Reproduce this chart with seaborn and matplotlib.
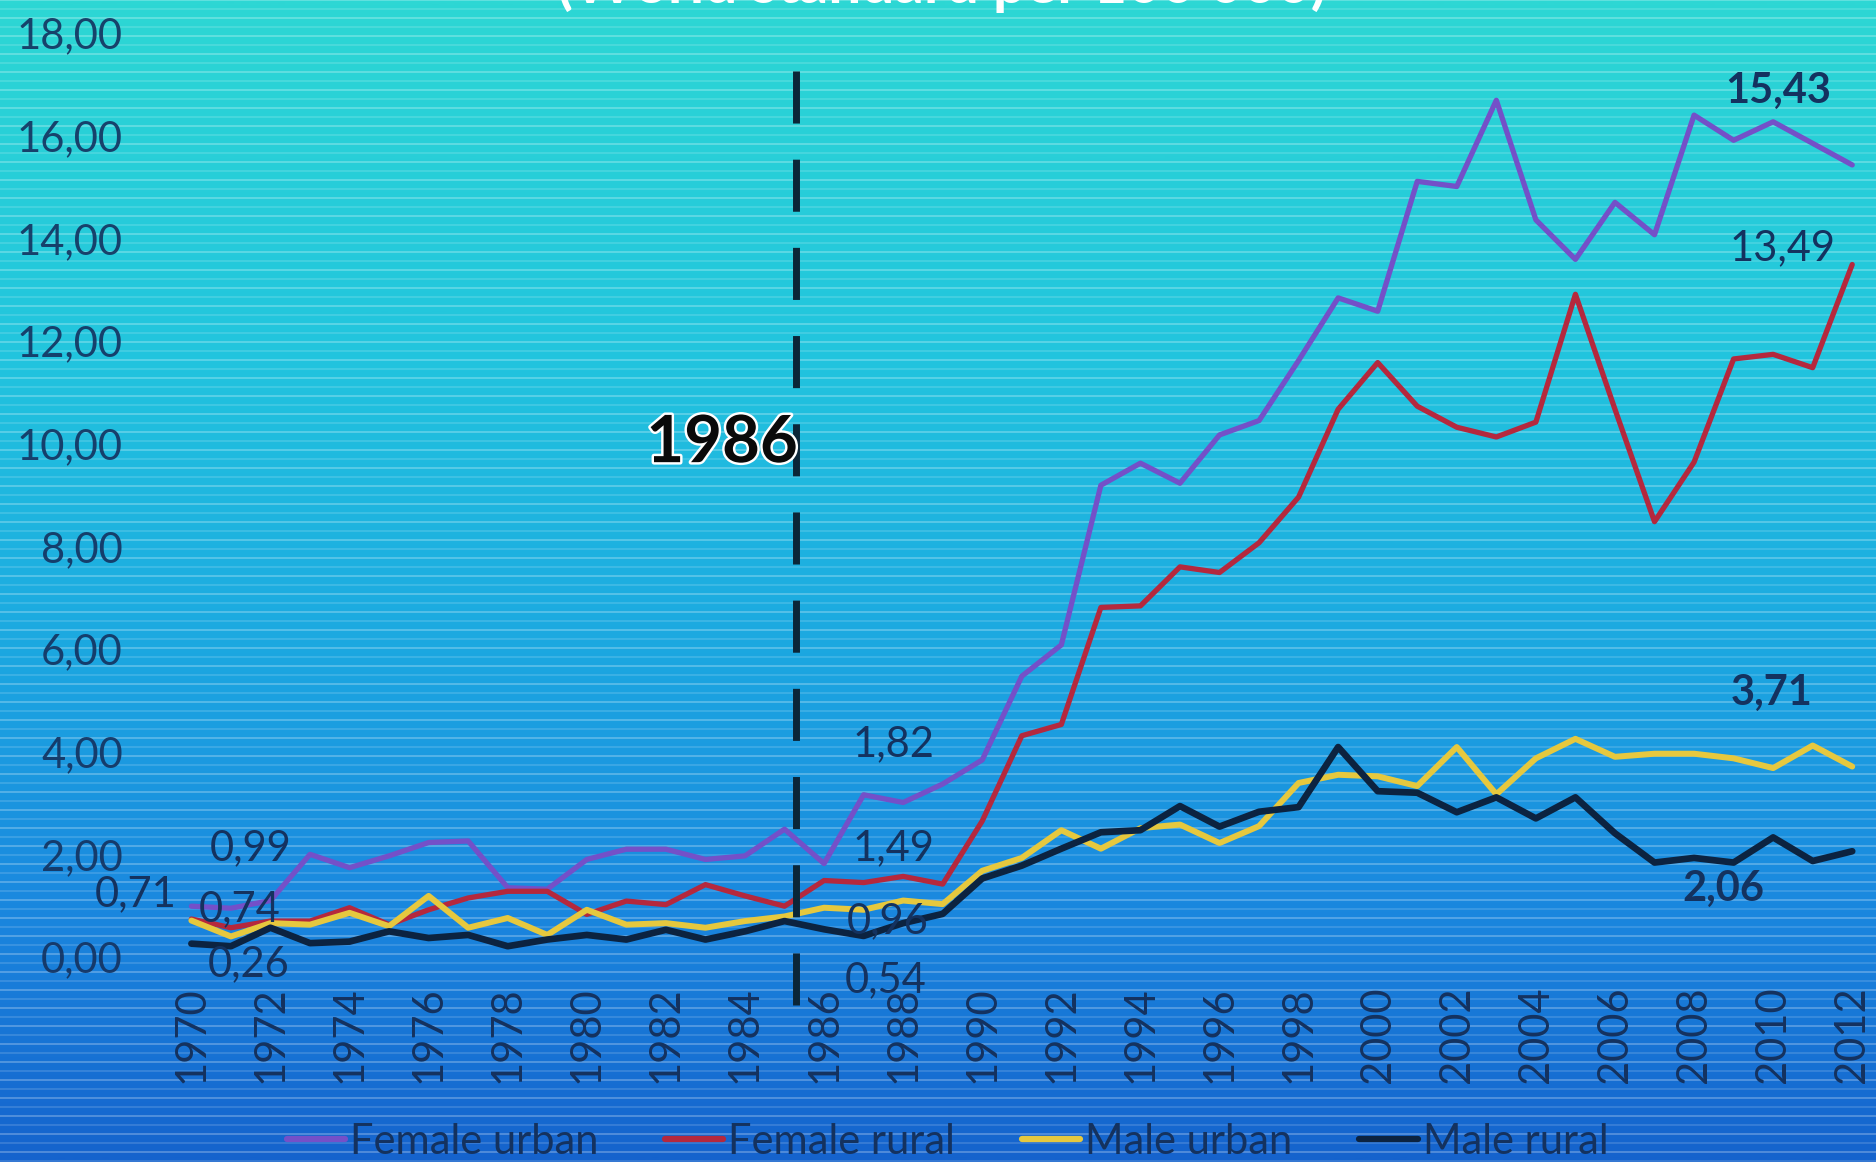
import numpy as np
import pandas as pd
import matplotlib
matplotlib.use("Agg")
import matplotlib.pyplot as plt
import matplotlib.patheffects as pe
from matplotlib.colors import LinearSegmentedColormap
from matplotlib.lines import Line2D
from matplotlib.ticker import FuncFormatter, FixedLocator
import seaborn as sns

# ---- data: suicide rates (world standard per 100 000) ----
years = list(range(1970, 2013))

female_urban = [0.99, 0.95, 1.10, 2.00, 1.74, 1.97, 2.23, 2.26, 1.35, 1.32,
                1.90, 2.10, 2.10, 1.90, 1.97, 2.49, 1.82, 3.16, 3.01, 3.37,
                3.84, 5.47, 6.08, 9.19, 9.62, 9.23, 10.17, 10.45, 11.62, 12.84,
                12.58, 15.11, 15.01, 16.69, 14.36, 13.59, 14.70, 14.07, 16.40, 15.91,
                16.27, 15.85, 15.43]
female_rural = [0.74, 0.57, 0.70, 0.70, 0.96, 0.63, 0.92, 1.15, 1.28, 1.28,
                0.83, 1.09, 1.02, 1.41, 1.19, 0.99, 1.49, 1.45, 1.57, 1.42,
                2.65, 4.31, 4.53, 6.81, 6.84, 7.60, 7.49, 8.07, 8.96, 10.67,
                11.58, 10.73, 10.32, 10.13, 10.42, 12.91, 10.67, 8.48, 9.64, 11.65,
                11.74, 11.48, 13.49]
male_urban = [0.71, 0.40, 0.66, 0.63, 0.86, 0.60, 1.19, 0.57, 0.76, 0.43,
              0.92, 0.63, 0.66, 0.57, 0.70, 0.79, 0.96, 0.92, 1.10, 1.03,
              1.68, 1.93, 2.47, 2.11, 2.51, 2.58, 2.22, 2.55, 3.39, 3.55,
              3.52, 3.33, 4.09, 3.17, 3.87, 4.25, 3.90, 3.96, 3.96, 3.87,
              3.68, 4.12, 3.71]
male_rural = [0.26, 0.21, 0.57, 0.27, 0.30, 0.50, 0.37, 0.43, 0.21, 0.34,
              0.43, 0.34, 0.53, 0.34, 0.50, 0.70, 0.54, 0.41, 0.66, 0.84,
              1.53, 1.78, 2.11, 2.43, 2.47, 2.94, 2.54, 2.83, 2.92, 4.09,
              3.23, 3.20, 2.82, 3.11, 2.70, 3.11, 2.41, 1.84, 1.93, 1.84,
              2.33, 1.87, 2.06]

series_names = ["Female urban", "Female rural", "Male urban", "Male rural"]
series_values = [female_urban, female_rural, male_urban, male_rural]
series_colors = ["#7450C8", "#B5283D", "#E6C83E", "#0C2340"]
series_widths = [3.8, 3.8, 4.3, 4.8]

y_ticks = [0, 2, 4, 6, 8, 10, 12, 14, 16, 18]
x_ticks = list(range(1970, 2013, 2))
reform_year = 1986
title_text = "(World standard per 100 000)"

# labelled points: (series index, year, offset in points, bold)
point_labels = [
    (0, 1970, (43, 42), False),
    (1, 1970, (35, 7), False),
    (2, 1970, (-40, 19), False),
    (3, 1970, (41, -15), False),
    (0, 1986, (50, 86), False),
    (1, 1986, (50, 23), False),
    (2, 1986, (46, -10), False),
    (3, 1986, (44, -37), False),
    (0, 2012, (-53, 53), True),
    (1, 2012, (-50, 12), False),
    (2, 2012, (-58, 53), True),
    (3, 2012, (-93, -27), True),
]

df = pd.DataFrame({
    "year": years * len(series_names),
    "rate": sum(series_values, []),
    "group": [n for n in series_names for _ in years],
})

sns.set_theme(style="white")
plt.rcParams["font.family"] = ["Lato", "DejaVu Sans"]

navy = "#14325f"
W, H = 1876, 1162
fig = plt.figure(figsize=(W / 100, H / 100), dpi=100)

# ---- background: vertical gradient with fine horizontal stripes ----
bg = fig.add_axes([0, 0, 1, 1], zorder=-10)
bg_cmap = LinearSegmentedColormap.from_list(
    "bg", [(0.0, "#2DD7D4"), (0.3, "#22C5DE"), (0.55, "#1CA9E1"),
           (0.78, "#1A88DF"), (1.0, "#1563CD")])
grad = np.linspace(0, 1, 600).reshape(-1, 1)
bg.imshow(grad, aspect="auto", cmap=bg_cmap, extent=[0, 1, 0, 1], origin="upper")
stripe_y = np.arange(H, 0, -9.0)
for i, yy in enumerate(stripe_y):
    bg.axhline(yy / H, color="white", lw=1.1, alpha=0.32 if i % 2 == 0 else 0.18)
bg.set_xlim(0, 1)
bg.set_ylim(0, 1)
bg.axis("off")

# ---- main chart ----
ax = fig.add_axes([171.6 / W, 1 - 957 / H, (1872 - 171.6) / W, (957 - 33) / H], zorder=1)
ax.patch.set_visible(False)

for name, color, lw in zip(series_names, series_colors, series_widths):
    sub = df[df["group"] == name]
    sns.lineplot(data=sub, x="year", y="rate", color=color, linewidth=lw,
                 ax=ax, legend=False, solid_joinstyle="round", solid_capstyle="round")

ax.set_xlim(years[0] - 0.5, years[-1] + 0.5)
ax.set_ylim(y_ticks[0], y_ticks[-1])
ax.set_xlabel("")
ax.set_ylabel("")
for s in ax.spines.values():
    s.set_visible(False)

ax.yaxis.set_major_locator(FixedLocator(y_ticks))
ax.yaxis.set_major_formatter(FuncFormatter(lambda v, p: f"{v:.2f}".replace(".", ",")))
ax.xaxis.set_major_locator(FixedLocator(x_ticks))
ax.xaxis.set_major_formatter(FuncFormatter(lambda v, p: f"{int(round(v))}"))
ax.tick_params(axis="y", length=0, pad=35, labelsize=30, labelcolor=navy)
ax.tick_params(axis="x", length=0, pad=21, labelsize=30, labelcolor=navy, labelrotation=90)
for lab in ax.get_yticklabels():
    lab.set_alpha(0.9)

# dashed marker before the reform year
reform_x = reform_year - 0.72
ax.plot([reform_x, reform_x], [-0.93, 17.45], color="#0B2638", lw=5,
        dashes=(7.5, 5.2), clip_on=False, zorder=3)
ax.text(reform_x + 0.05, 10.0, str(reform_year), ha="right", va="center",
        fontsize=47, fontweight="bold", color="#0a0a0a",
        path_effects=[pe.withStroke(linewidth=3.5, foreground="white")], zorder=4)

# value labels
for idx, yr, off, bold in point_labels:
    val = series_values[idx][years.index(yr)]
    ax.annotate(f"{val:.2f}".replace(".", ","), xy=(yr, val), xytext=off,
                textcoords="offset points", ha="center", va="center",
                fontsize=30, color=navy, fontweight="bold" if bold else "normal",
                annotation_clip=False, zorder=5)

# title (top edge of the chart)
fig.text(0.502, 1 - 3 / H, title_text, ha="center", va="baseline",
         fontsize=42, fontweight="bold", color="white")

# legend
handles = [Line2D([0], [0], color=c, lw=4.5) for c in series_colors]
fig.legend(handles, series_names, loc="center", bbox_to_anchor=(0.505, 1 - 1142 / H),
           ncol=4, frameon=False, fontsize=30, handlelength=1.4, handletextpad=0.12,
           columnspacing=1.6, labelcolor=navy)

fig.savefig("out.png", dpi=100)
